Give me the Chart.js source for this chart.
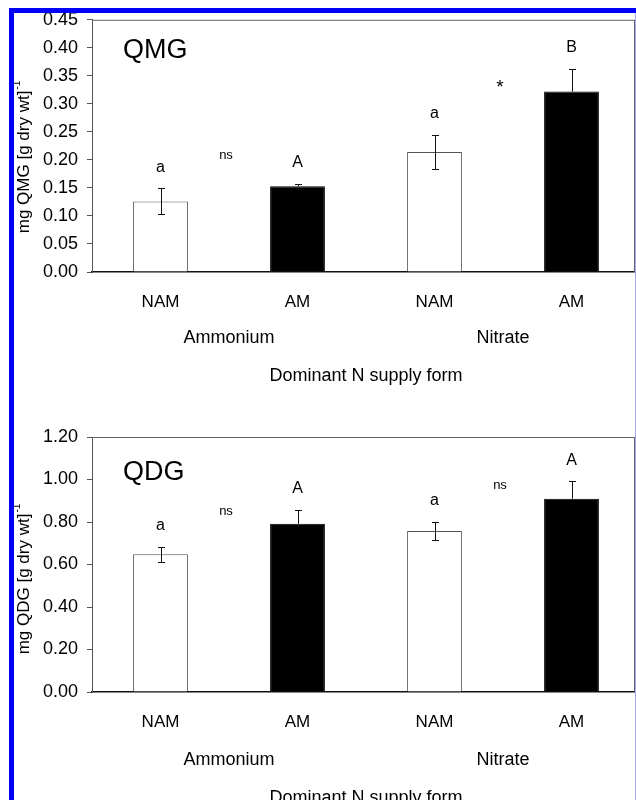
<!DOCTYPE html>
<html>
<head>
<meta charset="utf-8">
<title>QMG / QDG</title>
<script src="https://cdn.jsdelivr.net/npm/chart.js@4.4.1/dist/chart.umd.min.js"></script>
<style>
  body { margin: 0; background: #fff; }
  #page { position: relative; width: 636px; height: 800px; overflow: hidden; background: #fff; }
  canvas { position: absolute; left: 0; }
  #c1 { top: 0; }
  #c2 { top: 400px; }
  .blue { position: absolute; background: #0000f8; }
</style>
</head>
<body>
<div id="page">
  <canvas id="c1" width="640" height="400"></canvas>
  <canvas id="c2" width="640" height="400"></canvas>
  <div class="blue" style="left:9px; top:8px; width:627px; height:5px;"></div>
  <div class="blue" style="left:9px; top:8px; width:5px; height:792px;"></div>
  <div style="position:absolute; left:635px; top:13px; width:1px; height:787px; background:#aaaaf4;"></div>
</div>
<script>
// categories and groups
var categories = ['NAM', 'AM', 'NAM', 'AM'];
var groups = ['Ammonium', 'Nitrate'];
var barColors = ['#ffffff', '#000000', '#ffffff', '#000000'];

// QMG panel
var qmgMeans = [0.126, 0.153, 0.214, 0.322];
var qmgErrors = [0.023, 0.004, 0.031, 0.041];
var qmgLetters = ['a', 'A', 'a', 'B'];
var qmgPairMarks = ['ns', '*'];
var qmgPairY = [0.208, 0.334];

// QDG panel
var qdgMeans = [0.648, 0.792, 0.758, 0.910];
var qdgErrors = [0.034, 0.066, 0.043, 0.082];
var qdgLetters = ['a', 'A', 'a', 'A'];
var qdgPairMarks = ['ns', 'ns'];
var qdgPairY = [0.852, 0.974];

var FONT = '"Liberation Sans", Arial, sans-serif';

// error bars, letters, group labels, titles
var annot = {
    id: 'annot',
    afterDatasetsDraw: function (chart, args, o) {
        var ctx = chart.ctx, a = chart.chartArea;
        var x = chart.scales.x, y = chart.scales.y;
        var meta = chart.getDatasetMeta(0);
        ctx.save();

        // top and right frame
        ctx.strokeStyle = '#666';
        ctx.lineWidth = 1;
        ctx.beginPath();
        ctx.moveTo(a.left, a.top + 0.5);
        ctx.lineTo(a.right, a.top + 0.5);
        ctx.moveTo(634.5, a.top);
        ctx.lineTo(634.5, a.bottom);
        ctx.stroke();

        // error bars (lower half hidden inside the dark bars)
        ctx.strokeStyle = '#111';
        o.means.forEach(function (m, i) {
            var bx = Math.round(meta.data[i].x) + 0.5;
            var ym = y.getPixelForValue(m);
            var yt = Math.round(y.getPixelForValue(m + o.errors[i])) + 0.5;
            var yb = Math.round(y.getPixelForValue(m - o.errors[i])) + 0.5;
            var dark = barColors[i] === '#000000';
            ctx.beginPath();
            ctx.moveTo(bx, yt); ctx.lineTo(bx, dark ? ym : yb);
            ctx.moveTo(bx - 3.5, yt); ctx.lineTo(bx + 3.5, yt);
            if (!dark) { ctx.moveTo(bx - 3.5, yb); ctx.lineTo(bx + 3.5, yb); }
            ctx.stroke();
        });

        ctx.fillStyle = '#000';
        ctx.textAlign = 'center';
        ctx.textBaseline = 'middle';

        // letters above bars
        ctx.font = '16px ' + FONT;
        o.letters.forEach(function (t, i) {
            ctx.fillText(t, meta.data[i].x, y.getPixelForValue(o.means[i] + o.errors[i]) - 21);
        });

        // ns / * between pairs
        o.pairMarks.forEach(function (t, k) {
            var mx = (x.getPixelForValue(2 * k) + x.getPixelForValue(2 * k + 1)) / 2 - 3;
            ctx.font = (t === '*' ? '19px ' : '13px ') + FONT;
            ctx.fillText(t, mx, y.getPixelForValue(o.pairY[k]) + (t === '*' ? 3 : 0));
        });

        // group labels and x title
        ctx.font = '18px ' + FONT;
        groups.forEach(function (g, k) {
            var gx = (x.getPixelForValue(2 * k) + x.getPixelForValue(2 * k + 1)) / 2;
            ctx.fillText(g, gx, a.bottom + o.groupDy);
        });
        ctx.fillText('Dominant N supply form', (a.left + a.right) / 2, a.bottom + o.titleDy);

        // panel title
        ctx.textAlign = 'left';
        ctx.font = '27px ' + FONT;
        ctx.fillText(o.panel, a.left + 31, a.top + o.panelDy);

        // y axis title with superscript
        ctx.translate(24, o.yTitleY);
        ctx.rotate(-Math.PI / 2);
        ctx.font = '17px ' + FONT;
        var main = o.yTitle;
        var w1 = ctx.measureText(main).width;
        ctx.font = '10px ' + FONT;
        var w2 = ctx.measureText('-1').width;
        var start = -(w1 + w2 + 1) / 2;
        ctx.font = '17px ' + FONT;
        ctx.fillText(main, start, 0);
        ctx.font = '10px ' + FONT;
        ctx.fillText('-1', start + w1 + 1, -7);
        ctx.restore();
    }
};

function makeChart(id, means, errors, letters, pairMarks, pairY, max, step, extra) {
    return new Chart(document.getElementById(id), {
        type: 'bar',
        data: {
            labels: categories,
            datasets: [{
                data: means,
                backgroundColor: barColors,
                borderColor: ['#555', '#000', '#555', '#000'],
                borderWidth: 1,
                borderSkipped: 'bottom',
                barPercentage: 0.4,
                categoryPercentage: 1.0
            }]
        },
        options: {
            responsive: false,
            animation: false,
            layout: { padding: { top: extra.top, left: 0, right: 0, bottom: 0 } },
            plugins: {
                legend: { display: false },
                tooltip: { enabled: false },
                annot: {
                    means: means, errors: errors, letters: letters,
                    pairMarks: pairMarks, pairY: pairY,
                    panel: extra.panel, panelDy: extra.panelDy,
                    yTitle: extra.yTitle, yTitleY: extra.yTitleY,
                    groupDy: extra.groupDy, titleDy: extra.titleDy
                }
            },
            scales: {
                x: {
                    grid: { display: false, drawTicks: false },
                    border: { color: '#111', width: 1.5 },
                    ticks: { color: '#000', padding: 20, font: { family: FONT, size: 17 } },
                    afterFit: function (s) { s.height = extra.xHeight; }
                },
                y: {
                    min: 0, max: max,
                    grid: { drawOnChartArea: false, tickLength: 5, color: '#555' },
                    border: { color: '#555', width: 1 },
                    ticks: {
                        stepSize: step, color: '#000', padding: 9,
                        font: { family: FONT, size: 18 },
                        callback: function (v) { return v.toFixed(2); }
                    },
                    afterFit: function (s) { s.width = 92; }
                }
            }
        },
        plugins: [annot]
    });
}

makeChart('c1', qmgMeans, qmgErrors, qmgLetters, qmgPairMarks, qmgPairY, 0.45, 0.05, {
    top: 16, xHeight: 128, panel: 'QMG', panelDy: 31,
    yTitle: 'mg QMG [g dry wt]', yTitleY: 157, groupDy: 66, titleDy: 104
});
makeChart('c2', qdgMeans, qdgErrors, qdgLetters, qdgPairMarks, qdgPairY, 1.2, 0.2, {
    top: 37, xHeight: 108, panel: 'QDG', panelDy: 36,
    yTitle: 'mg QDG [g dry wt]', yTitleY: 179, groupDy: 68, titleDy: 106
});
</script>
</body>
</html>
